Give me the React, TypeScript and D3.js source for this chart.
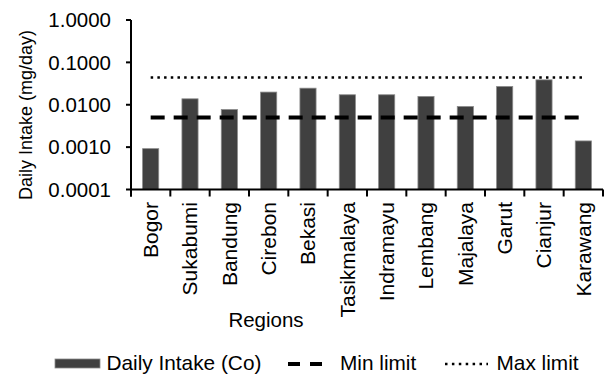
import React from "react";
import * as d3 from "d3";

const regions = ["Bogor","Sukabumi","Bandung","Cirebon","Bekasi","Tasikmalaya","Indramayu","Lembang","Majalaya","Garut","Cianjur","Karawang"];
const dailyIntake = [0.00092,0.0138,0.0077,0.0199,0.0246,0.0172,0.0172,0.0157,0.0091,0.027,0.0387,0.0014];
const minLimit = 0.005;
const maxLimit = 0.044;
const yTicks = [0.0001,0.001,0.01,0.1,1];
const yTickLabels = ["0.0001","0.0010","0.0100","0.1000","1.0000"];

const W = 611, H = 376;
const FONT = "'Liberation Sans', Arial, sans-serif";

export default function App() {
  const x = d3.scaleBand<string>().domain(regions).range([131, 603]).paddingInner(0.59).paddingOuter(0.295);
  const y = d3.scaleLog().domain([0.0001, 1]).range([189.5, 20]);
  const step = x.step();
  const x0 = 131;
  const boundaries = d3.range(regions.length + 1).map(i => x0 + i * step);
  const firstC = x(regions[0])! + x.bandwidth() / 2;
  const lastC = x(regions[regions.length - 1])! + x.bandwidth() / 2;
  const line = d3.line<[number, number]>().x(d => d[0]).y(d => d[1]);
  return (
    <svg width={W} height={H} style={{ position: "absolute", left: 0, top: 0, background: "#fff" }} fontFamily={FONT}>
      {regions.map((r, i) => (
        <rect key={r} x={x(r)} y={y(dailyIntake[i])} width={x.bandwidth()} height={y(0.0001) - y(dailyIntake[i])}
          fill="#404040" stroke="#8a8a8a" strokeWidth={0.8} />
      ))}
      <path d={line([[firstC, y(minLimit)], [lastC, y(minLimit)]])!} stroke="#000" strokeWidth={4} strokeDasharray="14 9" fill="none" />
      <path d={line([[firstC, y(maxLimit)], [lastC, y(maxLimit)]])!} stroke="#000" strokeWidth={2.5} strokeDasharray="2.5 4.2" fill="none" />
      <line x1={x0} x2={x0} y1={y(1)} y2={196.5} stroke="#000" strokeWidth={2} />
      {yTicks.map((t, i) => (
        <g key={t}>
          <line x1={x0 - 5} x2={x0} y1={y(t)} y2={y(t)} stroke="#000" strokeWidth={2} />
          <text x={111} y={y(t)} dy="0.35em" textAnchor="end" fontSize={20.5} fill="#000">{yTickLabels[i]}</text>
        </g>
      ))}
      <line x1={x0} x2={603} y1={y(0.0001)} y2={y(0.0001)} stroke="#000" strokeWidth={2} />
      {boundaries.map((b, i) => (
        <line key={i} x1={b} x2={b} y1={y(0.0001)} y2={196.5} stroke="#000" strokeWidth={2} />
      ))}
      {regions.map(r => (
        <text key={r} transform={`translate(${x(r)! + x.bandwidth() / 2},202) rotate(-90)`} dy="0.35em" textAnchor="end" fontSize={21} fill="#000">{r}</text>
      ))}
      <text x={266} y={327} textAnchor="middle" fontSize={20.5} fill="#000">Regions</text>
      <text transform={`translate(26,115) rotate(-90)`} dy="0.35em" textAnchor="middle" fontSize={18} fill="#000">Daily Intake (mg/day)</text>
      <rect x={55} y={359} width={45} height={9} fill="#404040" stroke="#8a8a8a" strokeWidth={0.8} />
      <text x={106.5} y={369.5} fontSize={20.8} fill="#000">Daily Intake (Co)</text>
      <line x1={288} x2={322} y1={364} y2={364} stroke="#000" strokeWidth={4} strokeDasharray="12 10" />
      <text x={340} y={369.5} fontSize={20.8} fill="#000">Min limit</text>
      <line x1={445} x2={488} y1={364} y2={364} stroke="#000" strokeWidth={2.5} strokeDasharray="2.5 4.4" />
      <text x={496.5} y={369.5} fontSize={20.8} fill="#000">Max limit</text>
    </svg>
  );
}
